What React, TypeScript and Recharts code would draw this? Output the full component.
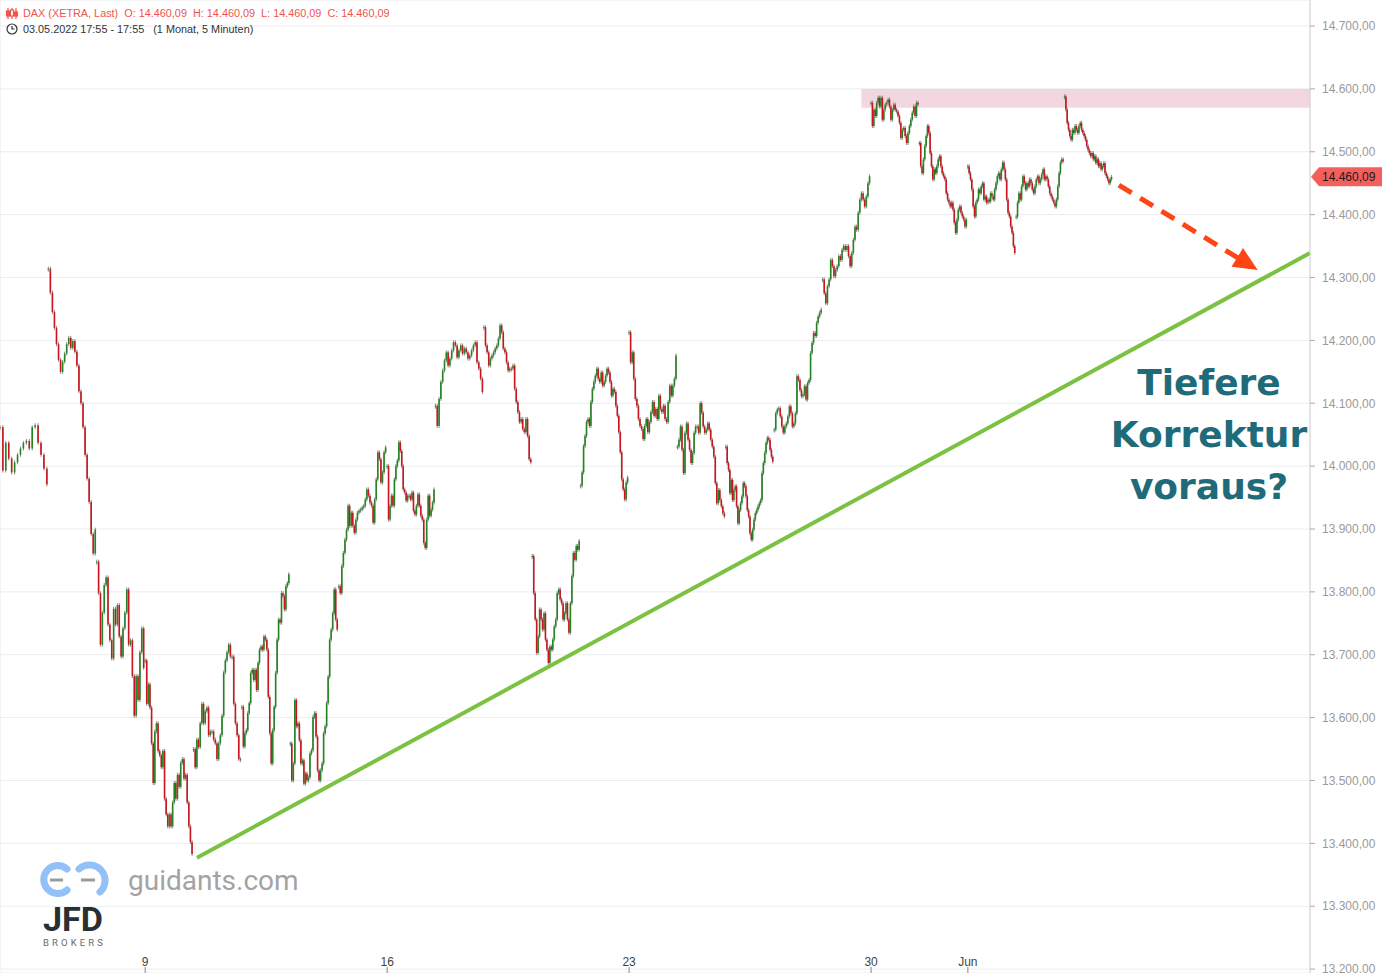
import React from "react"
import {
  ComposedChart,
  Bar,
  XAxis,
  YAxis,
  CartesianGrid,
  ReferenceArea,
  ReferenceLine
} from "recharts"

// DAX 5-min path, one array per trading day (first value = day open)
const may04 = [14062, 13993, 14037, 14012, 13990, 14006, 14018, 14028, 14037, 14040, 14028, 14062, 14065, 14037, 14018, 13996, 13971]
const may05 = [14314, 14276, 14245, 14220, 14194, 14169, 14150, 14166, 14179, 14194, 14204, 14188, 14199, 14182, 14160, 14119, 14100, 14062, 14018, 13980, 13943, 13892, 13861, 13899]
const may06 = [13848, 13798, 13716, 13767, 13811, 13823, 13748, 13723, 13694, 13773, 13748, 13779, 13729, 13697, 13742, 13767, 13804, 13716, 13723, 13666, 13603, 13666, 13628, 13704, 13742, 13679]
const may09 = [13691, 13622, 13653, 13616, 13559, 13496, 13578, 13591, 13547, 13540, 13521, 13547, 13471, 13446, 13427, 13446, 13427, 13465, 13496, 13471, 13509, 13490, 13528, 13534, 13503, 13509, 13465, 13427, 13402, 13383]
const may10 = [13550, 13521, 13565, 13553, 13591, 13622, 13591, 13610, 13616, 13572, 13578, 13578, 13565, 13559, 13534, 13559, 13572, 13603, 13672, 13691, 13704, 13716, 13697, 13697, 13622, 13591, 13572, 13534, 13534]
const may11 = [13617, 13554, 13575, 13580, 13607, 13623, 13671, 13676, 13660, 13676, 13644, 13687, 13708, 13713, 13708, 13729, 13724, 13708, 13633, 13575, 13527, 13580, 13617, 13671, 13724, 13756, 13751, 13798, 13793, 13772, 13809, 13814, 13828]
const may12 = [13559, 13500, 13527, 13628, 13586, 13591, 13564, 13527, 13532, 13495, 13511, 13500, 13505, 13543, 13548, 13601, 13607, 13570, 13516, 13500, 13516, 13527, 13575, 13586, 13623, 13665, 13724, 13740, 13766, 13804, 13756, 13740]
const may13 = [13809, 13798, 13841, 13862, 13883, 13899, 13937, 13905, 13926, 13905, 13894, 13915, 13926, 13929, 13931, 13934, 13937, 13947, 13963, 13953, 13942, 13937, 13910, 13947, 13979, 14022, 14011, 13974, 13990, 14022, 14030]
const may16 = [14000, 13915, 13937, 13953, 13937, 13979, 14000, 14009, 14038, 14024, 14000, 13963, 13958, 13945, 13953, 13953, 13947, 13958, 13929, 13923, 13937, 13955, 13937, 13921, 13915, 13878, 13870, 13915, 13953, 13921, 13931, 13942, 13963]
const may17 = [14096, 14064, 14107, 14134, 14152, 14168, 14181, 14160, 14171, 14184, 14197, 14192, 14173, 14184, 14192, 14179, 14187, 14181, 14171, 14176, 14184, 14192, 14197, 14165, 14155, 14139, 14118]
const may18 = [14221, 14192, 14181, 14160, 14171, 14176, 14181, 14187, 14192, 14203, 14224, 14213, 14187, 14181, 14165, 14152, 14155, 14155, 14160, 14123, 14102, 14086, 14070, 14075, 14059, 14054, 14075, 14048, 14011, 14006]
const may19 = [13857, 13798, 13756, 13703, 13729, 13772, 13756, 13740, 13766, 13724, 13708, 13687, 13713, 13708, 13724, 13745, 13756, 13798, 13804, 13788, 13782, 13756, 13766, 13782, 13756, 13735, 13782, 13825, 13862, 13851, 13873, 13867, 13881]
const may20 = [13969, 13990, 14032, 14048, 14070, 14075, 14064, 14102, 14123, 14134, 14144, 14155, 14139, 14134, 14149, 14128, 14134, 14144, 14155, 14149, 14134, 14112, 14123, 14118, 14096, 14080, 14054, 14022, 13979, 13963, 13947, 13974, 13982]
const may23 = [14213, 14165, 14181, 14139, 14107, 14096, 14075, 14064, 14059, 14043, 14064, 14075, 14054, 14070, 14086, 14102, 14080, 14091, 14075, 14112, 14091, 14086, 14096, 14075, 14070, 14102, 14128, 14112, 14128, 14139, 14176]
const may24 = [14031, 14042, 14063, 14026, 13989, 14053, 14068, 14042, 14026, 14005, 14021, 14053, 14063, 14063, 14053, 14100, 14085, 14063, 14053, 14058, 14068, 14058, 14042, 14031, 14015, 13973, 13941, 13962, 13946, 13936, 13925, 13920]
const may25 = [14031, 14005, 13994, 13957, 13978, 13946, 13962, 13968, 13936, 13909, 13930, 13941, 13952, 13973, 13968, 13952, 13930, 13920, 13893, 13883, 13899, 13915, 13925, 13930, 13936, 13941, 13946, 13989, 14005, 14021, 14037, 14045, 14042, 14026, 14015, 14007]
const may26 = [14058, 14084, 14090, 14092, 14079, 14063, 14053, 14063, 14068, 14079, 14095, 14084, 14063, 14068, 14084, 14143, 14137, 14121, 14111, 14114, 14127, 14106, 14132, 14137, 14180, 14196, 14212, 14207, 14228, 14238, 14244, 14249]
const may27 = [14297, 14275, 14259, 14286, 14297, 14328, 14318, 14302, 14312, 14318, 14334, 14328, 14344, 14350, 14344, 14350, 14334, 14318, 14339, 14360, 14381, 14376, 14403, 14424, 14434, 14424, 14413, 14429, 14450, 14461]
const may30 = [14578, 14541, 14567, 14557, 14578, 14586, 14572, 14586, 14551, 14567, 14575, 14578, 14583, 14572, 14551, 14567, 14575, 14567, 14564, 14557, 14546, 14522, 14535, 14538, 14525, 14514, 14530, 14541, 14551, 14562, 14572, 14557, 14578, 14575]
const may31 = [14514, 14477, 14466, 14488, 14509, 14525, 14541, 14530, 14498, 14477, 14456, 14472, 14466, 14477, 14488, 14493, 14477, 14466, 14461, 14456, 14434, 14424, 14419, 14413, 14419, 14408, 14387, 14371, 14392, 14408, 14413, 14403, 14397, 14392, 14381, 14392]
const jun01 = [14477, 14466, 14456, 14440, 14413, 14397, 14419, 14424, 14440, 14434, 14445, 14450, 14424, 14429, 14419, 14424, 14421, 14434, 14429, 14424, 14440, 14450, 14461, 14466, 14456, 14472, 14483, 14472, 14456, 14424, 14403, 14397, 14381, 14371, 14350, 14339]
const jun02 = [14397, 14419, 14434, 14424, 14445, 14461, 14450, 14440, 14450, 14445, 14456, 14450, 14440, 14434, 14445, 14456, 14461, 14450, 14456, 14464, 14472, 14456, 14461, 14456, 14445, 14434, 14429, 14424, 14419, 14413, 14424, 14445, 14466, 14483, 14488, 14485]
const jun03 = [14588, 14567, 14546, 14535, 14525, 14519, 14535, 14530, 14541, 14535, 14530, 14541, 14546, 14535, 14530, 14525, 14519, 14509, 14503, 14498, 14493, 14498, 14488, 14493, 14482, 14488, 14477, 14482, 14472, 14477, 14482, 14466, 14461, 14456, 14450, 14456, 14460.09]

const tradingDays = [
  may04, may05, may06, may09, may10, may11, may12, may13, may16, may17, may18, may19,
  may20, may23, may24, may25, may26, may27, may30, may31, jun01, jun02, jun03
]

// x axis is in trading days (0 = 4 May)
const dayTicks = [3, 8, 13, 18, 20]
const dayTickLabels = ["9", "16", "23", "30", "Jun"]
const priceTicks = [13200, 13300, 13400, 13500, 13600, 13700, 13800, 13900, 14000, 14100, 14200, 14300, 14400, 14500, 14600, 14700]
const lastPrice = 14460.09

// drawings
const resistanceZone = { from: 17.8, low: 14570, high: 14600 }
const trendLine = [{ x: 4.07, y: 13377 }, { x: 27.07, y: 14339 }]
const forecastArrow = [{ x: 23.12, y: 14447 }, { x: 25.99, y: 14312 }]

const candles = tradingDays.flatMap((prices, day) =>
  prices.map((close, i) => {
    const open = i === 0 ? close : prices[i - 1]
    return {
      t: day + (0.97 * i) / (prices.length - 1),
      open,
      close,
      body: [Math.min(open, close), Math.max(open, close)]
    }
  })
)

const fmt = (v: number) => {
  const whole = Math.floor(v)
  const cents = Math.round((v - whole) * 100)
  return `${Math.floor(whole / 1000)}.${String(whole % 1000).padStart(3, "0")},${String(cents).padStart(2, "0")}`
}

const FONT = "'Liberation Sans', Arial, sans-serif"

const Candle = (props: any) => {
  const { x, y, width, height, payload } = props
  if (x == null || y == null) return null
  const cx = x + width / 2
  const h = Math.max(height || 0, 1)
  const up = payload.close >= payload.open
  return (
    <g>
      <line x1={cx} x2={cx} y1={y - 2} y2={y + h + 2} stroke="#8c8c8c" strokeWidth={1} />
      <rect x={cx - 0.8} y={y} width={1.6} height={h} fill={up ? "#238423" : "#c9151b"} />
    </g>
  )
}

const DayTick = (props: any) => {
  const { x1, x2, label } = props
  const x = x1 ?? x2
  if (x == null) return null
  return (
    <g>
      <line x1={x} x2={x} y1={967} y2={973} stroke="#888" />
      <text x={x} y={966} textAnchor="middle" fontSize={12} fill="#444" fontFamily={FONT}>
        {label}
      </text>
    </g>
  )
}

const ArrowShape = (props: any) => {
  const { x1, y1, x2, y2 } = props
  if ([x1, y1, x2, y2].some((v) => v == null || isNaN(v))) return null
  const a = Math.atan2(y2 - y1, x2 - x1)
  const head = 24
  const half = 11
  const bx = x2 - head * Math.cos(a)
  const by = y2 - head * Math.sin(a)
  const px = -Math.sin(a)
  const py = Math.cos(a)
  return (
    <g>
      <line x1={x1} y1={y1} x2={bx + 4 * Math.cos(a)} y2={by + 4 * Math.sin(a)} stroke="#ff4516" strokeWidth={5} strokeDasharray="15 10" />
      <polygon
        points={`${x2},${y2} ${bx + px * half},${by + py * half} ${bx - px * half},${by - py * half}`}
        fill="#ff4516"
      />
    </g>
  )
}

const PriceTag = (props: any) => {
  const { x1, x2, y1 } = props
  if (x1 == null || x2 == null || y1 == null) return null
  const x = Math.max(x1, x2) + 1
  const y = y1
  return (
    <g>
      <polygon
        points={`${x},${y} ${x + 8},${y - 9.5} ${x + 72},${y - 9.5} ${x + 72},${y + 9.5} ${x + 8},${y + 9.5}`}
        fill="#f25f5c"
      />
      <text x={x + 11} y={y + 4.5} fontSize={12} fill="#1a1a1a" fontFamily={FONT}>
        {fmt(lastPrice)}
      </text>
    </g>
  )
}

export default function App() {
  return (
    <div style={{ position: "relative", width: 1382, height: 973, background: "#fff", overflow: "hidden" }}>
      <style>{"body{margin:0}"}</style>
      <ComposedChart
        width={1382}
        height={973}
        data={candles}
        margin={{ top: 0, right: 0, bottom: 0, left: 0 }}
      >
        <CartesianGrid stroke="#ececec" />
        <XAxis
          type="number"
          dataKey="t"
          domain={[0, 27.07]}
          ticks={dayTicks}
          height={0}
          axisLine={false}
          tickLine={false}
          tick={false}
          allowDataOverflow
        />
        <YAxis
          orientation="right"
          width={72}
          domain={[13193.8, 14741.4]}
          ticks={priceTicks}
          interval={0}
          tickFormatter={fmt}
          tick={{ fontSize: 12, fill: "#9a9a9a", fontFamily: FONT }}
          axisLine={{ stroke: "#d4d4d4" }}
          tickLine={{ stroke: "#aaa" }}
          tickSize={5}
          tickMargin={7}
          allowDataOverflow
        />
        <ReferenceArea
          x1={resistanceZone.from}
          x2={27.07}
          y1={resistanceZone.low}
          y2={resistanceZone.high}
          fill="#d98aa6"
          fillOpacity={0.35}
          stroke="none"
          ifOverflow="visible"
        />
        <Bar
          dataKey="body"
          barSize={2}
          shape={<Candle />}
          isAnimationActive={false}
        />
        <ReferenceLine
          segment={trendLine}
          stroke="#7bc142"
          strokeWidth={4}
          ifOverflow="visible"
        />
        <ReferenceLine
          segment={forecastArrow}
          shape={(p: any) => <ArrowShape {...p} />}
          ifOverflow="visible"
        />
        <ReferenceLine
          y={lastPrice}
          shape={(p: any) => <PriceTag {...p} />}
          ifOverflow="visible"
        />
        {dayTicks.map((d, i) => (
          <ReferenceLine
            key={d}
            x={d}
            shape={(p: any) => <DayTick {...p} label={dayTickLabels[i]} />}
            ifOverflow="visible"
          />
        ))}
      </ComposedChart>

      <svg
        width={1382}
        height={973}
        style={{ position: "absolute", left: 0, top: 0, pointerEvents: "none" }}
      >
        {/* header */}
        <g stroke="#ef5350" strokeWidth={1.2} fill="none">
          <line x1={8} y1={8} x2={8} y2={19} />
          <rect x={6.5} y={11} width={3} height={5} fill="#ef5350" />
          <line x1={12} y1={8} x2={12} y2={19} />
          <rect x={10.5} y={10} width={3} height={6} fill="#fff" />
          <line x1={16} y1={8} x2={16} y2={19} />
          <rect x={14.5} y={12} width={3} height={4} fill="#ef5350" />
        </g>
        <text x={23} y={17} fontSize={10.85} fill="#ef5350" fontFamily={FONT} style={{ whiteSpace: "pre" }}>
          {"DAX (XETRA, Last)  O: 14.460,09  H: 14.460,09  L: 14.460,09  C: 14.460,09"}
        </text>
        <circle cx={12} cy={29} r={5} stroke="#333" strokeWidth={1.2} fill="none" />
        <path d="M12 26 V29 H14.5" stroke="#333" strokeWidth={1.2} fill="none" />
        <text x={23} y={33} fontSize={10.85} fill="#333" fontFamily={FONT} style={{ whiteSpace: "pre" }}>
          {"03.05.2022 17:55 - 17:55   (1 Monat, 5 Minuten)"}
        </text>

        {/* annotation */}
        <g fontFamily="'DejaVu Sans', Verdana, sans-serif" fontWeight="bold" fontSize={36} fill="#1f6b7a" textAnchor="middle">
          <text x={1209} y={395}>Tiefere</text>
          <text x={1209} y={447}>Korrektur</text>
          <text x={1209} y={499}>voraus?</text>
        </g>

        {/* watermark */}
        <g fill="none" stroke="#91c1f6" strokeWidth={7} strokeLinecap="round">
          <path d="M 67 869 A 14 14 0 1 0 67 890" />
          <path d="M 79 869 A 14 14 0 1 1 100 892" />
        </g>
        <g stroke="#9a9a9a" strokeWidth={3}>
          <line x1={50} y1={880} x2={63} y2={880} />
          <line x1={81} y1={880} x2={95} y2={880} />
        </g>
        <text x={128} y={890} fontSize={28} fill="#a3a3a3" fontFamily="Roboto, sans-serif">
          guidants.com
        </text>
        <text x={43} y={931} fontSize={34} fontWeight="bold" fill="#2a2f33" fontFamily="Roboto, sans-serif" textLength={60} lengthAdjust="spacingAndGlyphs">
          JFD
        </text>
        <text x={43} y={946} fontSize={9.5} fill="#6a6a6a" fontFamily="Roboto, sans-serif" textLength={60} lengthAdjust="spacing">
          BROKERS
        </text>
      </svg>
    </div>
  )
}
